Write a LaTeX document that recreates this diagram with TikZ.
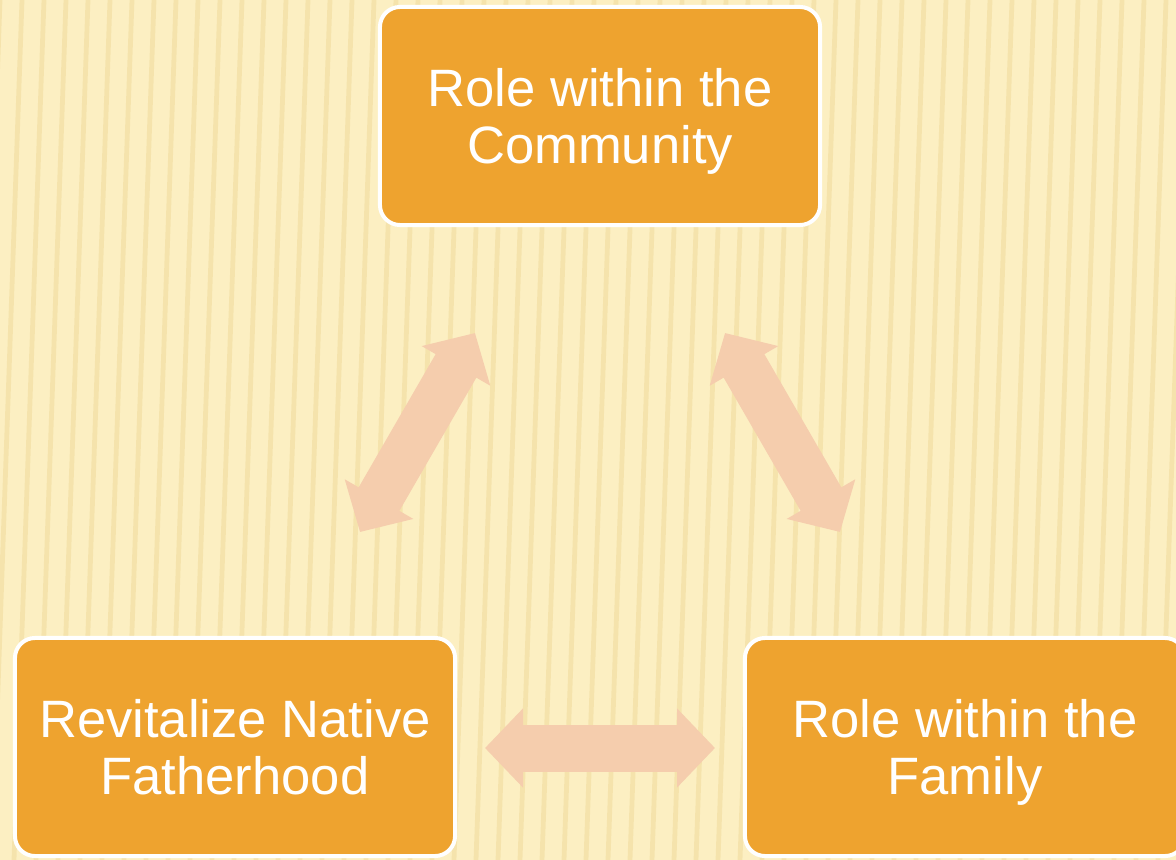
\documentclass[tikz,border=0pt]{standalone}
\usepackage{fontspec}
\setmainfont{Liberation Sans}
\usetikzlibrary{arrows.meta}

\definecolor{boxorange}{HTML}{EEA32F}
\definecolor{arrowpeach}{HTML}{F5CDAD}
\definecolor{paper}{HTML}{FCEFC2}
\definecolor{stripe}{HTML}{EBD38C}

\tikzset{
  blockarrow/.style={draw=arrowpeach, line width=1.175cm,
    {Triangle[length=0.95cm,width=1.925cm]}-{Triangle[length=0.95cm,width=1.925cm]}}
}

\begin{document}
\begin{tikzpicture}[x=0.025cm,y=-0.025cm]
    \useasboundingbox (0,0) rectangle (1176,860);
    \clip (0,0) rectangle (1176,860);
    \fill[paper] (0,0) rectangle (1176,860);
    \foreach \x in {0,22,...,1230}
        \draw[stripe, opacity=0.4, line width=0.12cm] (\x,0) -- (\x-30,860);

    \begin{scope}[every node/.style={rounded corners=0.5cm, fill=boxorange, draw=white,
                  line width=0.1cm, minimum width=11cm, minimum height=5.45cm,
                  align=center, text=white, font=\fontsize{37.4}{40.5}\selectfont}]
        \node (community) at (600,116) {Role within the\\\smash{Community}};
        \node (fatherhood) at (235,747) {Revitalize Native\\Fatherhood};
        \node (family) at (965,747) {Role within the\\\smash{Family}};
    \end{scope}

    \coordinate (left-low) at (360,532);
    \coordinate (left-high) at (475,333);
    \coordinate (right-high) at (725,333);
    \coordinate (right-low) at (840,532);
    \coordinate (mid-left) at (485,748);
    \coordinate (mid-right) at (715,748);

    \draw[blockarrow] (left-low) -- (left-high);
    \draw[blockarrow] (right-high) -- (right-low);
    \draw[blockarrow] (mid-left) -- (mid-right);
\end{tikzpicture}
\end{document}
